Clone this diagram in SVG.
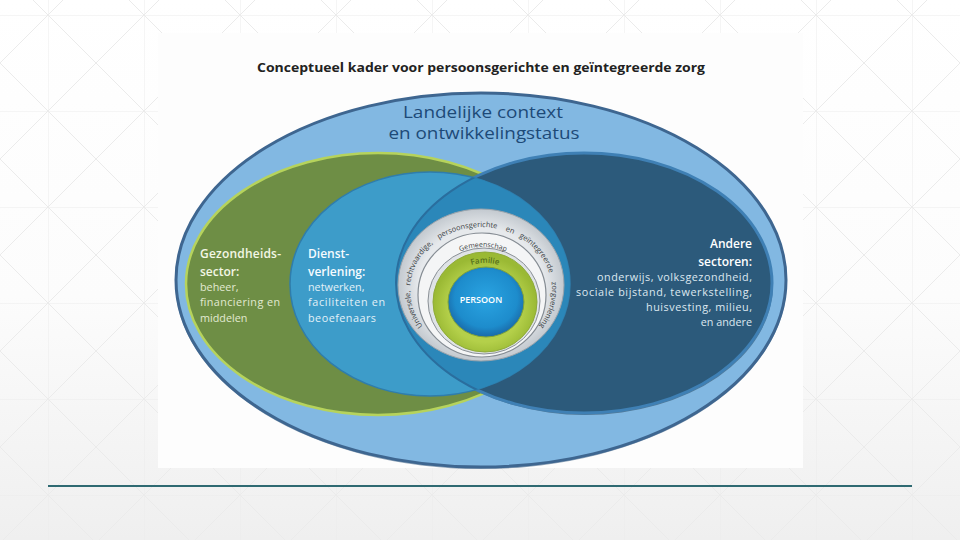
<svg xmlns="http://www.w3.org/2000/svg" width="960" height="540" viewBox="0 0 960 540">
  <defs>
    <pattern id="grid" x="48" y="15" width="96" height="96" patternUnits="userSpaceOnUse">
      <path d="M0 0H96M0 0V96M0 0L96 96M96 0L0 96" stroke="#ebebeb" stroke-width="1" fill="none"/>
    </pattern>
    <linearGradient id="pageShade" x1="0" y1="0" x2="0" y2="1">
      <stop offset="0" stop-color="#ffffff"/>
      <stop offset="0.55" stop-color="#fcfcfc"/>
      <stop offset="1" stop-color="#efefef"/>
    </linearGradient>
    <radialGradient id="ringGrad" cx="0.5" cy="0.5" r="0.5">
      <stop offset="0.75" stop-color="#e6e9ec"/>
      <stop offset="1" stop-color="#c3c9cf"/>
    </radialGradient>
    <radialGradient id="greenGrad" cx="0.5" cy="0.55" r="0.5">
      <stop offset="0.7" stop-color="#b4d04a"/>
      <stop offset="1" stop-color="#9ab934"/>
    </radialGradient>
    <radialGradient id="personGrad" cx="0.5" cy="0.45" r="0.55">
      <stop offset="0" stop-color="#2aa4e2"/>
      <stop offset="0.75" stop-color="#1d8ccc"/>
      <stop offset="1" stop-color="#1a6aa8"/>
    </radialGradient>
    <clipPath id="midClip">
      <ellipse cx="430" cy="284" rx="140" ry="112"/>
    </clipPath>
    <path id="arcUniversal" d="M422.8,326.1 A71,63 0 1 1 539.2,326.1"/>
    <path id="arcCommunity" d="M439.3,266.6 A57,55 0 0 1 526.7,266.6"/>
    <path id="arcFamily" d="M454.6,274.4 A43,39 0 0 1 515.4,274.4"/>
    <style>
      .f { font-family: "Open Sans", "Liberation Sans", sans-serif; }
      .head { font-weight: 600; font-size: 12px; }
      .body { font-weight: 400; font-size: 10.8px; }
      .ringtxt { font-size: 7.4px; fill: #3a3f44; }
    </style>
  </defs>

  <!-- page background -->
  <rect x="0" y="0" width="960" height="540" fill="url(#pageShade)"/>
  <rect x="0" y="0" width="960" height="540" fill="url(#grid)"/>
  <rect x="158" y="33" width="645" height="435" fill="#fdfdfd"/>
  <line x1="48" y1="486" x2="912" y2="486" stroke="#2f6a72" stroke-width="2"/>

  <g id="title">
    <text class="f" x="481" y="72" text-anchor="middle" font-size="13px" font-weight="700" fill="#222" textLength="448" lengthAdjust="spacingAndGlyphs">Conceptueel kader voor persoonsgerichte en geïntegreerde zorg</text>
  </g>

  <g id="national-context">
    <ellipse cx="481" cy="281" rx="306" ry="188" fill="#4a6a8c" opacity="0.6"/>
    <ellipse cx="481" cy="280" rx="305" ry="187" fill="#82b8e2" stroke="#3e6690" stroke-width="3"/>
    <text class="f" x="483" y="118" text-anchor="middle" font-size="16.5px" font-weight="500" fill="#1d4a78" textLength="160" lengthAdjust="spacingAndGlyphs">Landelijke context</text>
    <text class="f" x="484" y="139" text-anchor="middle" font-size="16.5px" font-weight="500" fill="#1d4a78" textLength="191" lengthAdjust="spacingAndGlyphs">en ontwikkelingstatus</text>
  </g>

  <g id="health-sector">
    <ellipse cx="378" cy="284" rx="192" ry="131" fill="#6e8e45" stroke="#b6d35c" stroke-width="2.5"/>
  </g>

  <g id="other-sectors">
    <ellipse cx="585" cy="285" rx="188" ry="130" fill="#3d5f7a" opacity="0.7"/>
    <ellipse cx="584" cy="283" rx="188" ry="130" fill="#2c5a7b" stroke="#3f80b5" stroke-width="3"/>
  </g>

  <g id="services">
    <ellipse cx="430" cy="284" rx="140" ry="112" fill="#3d9cc9" stroke="#2f7dac" stroke-width="1.5"/>
    <g clip-path="url(#midClip)">
      <ellipse cx="584" cy="283" rx="188" ry="130" fill="#2b87b9" stroke="#2a6e9e" stroke-width="2"/>
    </g>
  </g>

  <g id="health-sector-label">
    <text class="f head" x="200" y="258" fill="#f3f7e6" textLength="81" lengthAdjust="spacing">Gezondheids-</text>
    <text class="f head" x="200" y="276" fill="#f3f7e6">sector:</text>
    <text class="f body" x="200" y="291" fill="#e2ead2">beheer,</text>
    <text class="f body" x="200" y="306" fill="#e2ead2" textLength="80" lengthAdjust="spacing">financiering en</text>
    <text class="f body" x="200" y="322" fill="#e2ead2">middelen</text>
  </g>

  <g id="services-label">
    <text class="f head" x="308" y="258" fill="#f6fbff">Dienst-</text>
    <text class="f head" x="308" y="276" fill="#f6fbff">verlening:</text>
    <text class="f body" x="308" y="291" fill="#e2f1f8">netwerken,</text>
    <text class="f body" x="308" y="306" fill="#e2f1f8" textLength="77" lengthAdjust="spacing">faciliteiten en</text>
    <text class="f body" x="308" y="322" fill="#e2f1f8" textLength="68" lengthAdjust="spacing">beoefenaars</text>
  </g>

  <g id="other-sectors-label">
    <text class="f head" x="752" y="248" text-anchor="end" fill="#ffffff">Andere</text>
    <text class="f head" x="752" y="266" text-anchor="end" fill="#ffffff">sectoren:</text>
    <text class="f body" x="752" y="281" text-anchor="end" fill="#dde8f0" textLength="155" lengthAdjust="spacing">onderwijs, volksgezondheid,</text>
    <text class="f body" x="752" y="296" text-anchor="end" fill="#dde8f0" textLength="176" lengthAdjust="spacing">sociale bijstand, tewerkstelling,</text>
    <text class="f body" x="752" y="311" text-anchor="end" fill="#dde8f0" textLength="106" lengthAdjust="spacing">huisvesting, milieu,</text>
    <text class="f body" x="752" y="326" text-anchor="end" fill="#dde8f0">en andere</text>
  </g>

  <g id="universal-care">
    <ellipse cx="481" cy="285" rx="83" ry="76" fill="url(#ringGrad)" stroke="#9aa3ab" stroke-width="1"/>
    <text class="f ringtxt"><textPath href="#arcUniversal" startOffset="0">Universele,</textPath></text>
    <text class="f ringtxt"><textPath href="#arcUniversal" startOffset="68" text-anchor="middle">rechtvaardige,</textPath></text>
    <text class="f ringtxt"><textPath href="#arcUniversal" startOffset="130" text-anchor="middle">persoonsgerichte</textPath></text>
    <text class="f ringtxt"><textPath href="#arcUniversal" startOffset="173" text-anchor="middle">en</textPath></text>
    <text class="f ringtxt"><textPath href="#arcUniversal" startOffset="208" text-anchor="middle">geïntegreerde</textPath></text>
    <text class="f ringtxt"><textPath href="#arcUniversal" startOffset="100%" text-anchor="end">zorgverlening</textPath></text>
  </g>

  <g id="community">
    <ellipse cx="482" cy="295" rx="64" ry="62" fill="#f4f5f6" stroke="#858c93" stroke-width="1.2"/>
    <ellipse cx="484" cy="301" rx="56" ry="53" fill="#dfe3e6" stroke="#8a9096" stroke-width="1"/>
    <text class="f" font-size="7px" fill="#3a3f44"><textPath href="#arcCommunity" startOffset="50%" text-anchor="middle">Gemeenschap</textPath></text>
  </g>

  <g id="family">
    <ellipse cx="485" cy="302" rx="52" ry="50" fill="url(#greenGrad)" stroke="#8fab3a" stroke-width="1"/>
    <text class="f" font-size="8px" font-weight="600" fill="#55701c"><textPath href="#arcFamily" startOffset="50%" text-anchor="middle">Familie</textPath></text>
  </g>

  <g id="person">
    <ellipse cx="486" cy="302" rx="38" ry="35" fill="url(#personGrad)" stroke="#7fa23a" stroke-width="1"/>
    <text class="f" x="481" y="303" text-anchor="middle" font-size="9px" font-weight="600" fill="#ffffff">PERSOON</text>
  </g>
</svg>
